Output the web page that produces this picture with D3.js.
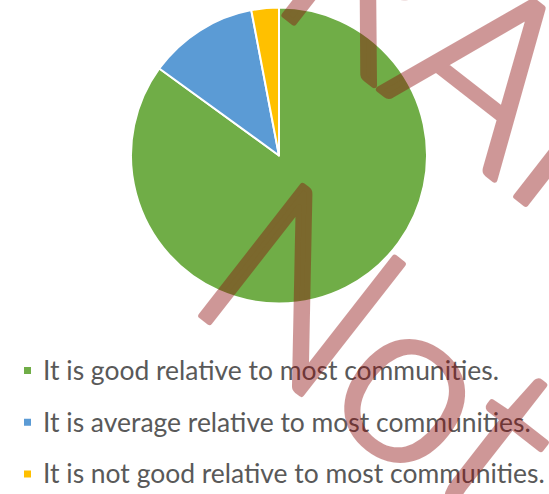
<!DOCTYPE html>
<html>
<head>
<meta charset="utf-8">
<script src="https://cdn.jsdelivr.net/npm/d3@7"></script>
<style>
  html, body { margin: 0; padding: 0; background: #ffffff; }
  svg { display: block; }
</style>
</head>
<body>
<svg id="chart" width="549" height="494"></svg>
<script>
const categories = [
  "It is good relative to most communities.",
  "It is average relative to most communities.",
  "It is not good relative to most communities."
];
const values = [85, 12, 3];
const colors = ["#70AD47", "#5B9BD5", "#FFC000"];
const watermarkLines = ["DRAFT", "Not for Distribution"];

const svg = d3.select("#chart");
const W = 549, H = 494;
const cx = 279, cy = 155.5, R = 148;

const pie = d3.pie().sort(null).value(d => d);
const arc = d3.arc().innerRadius(0).outerRadius(R);
const color = d3.scaleOrdinal().domain(categories).range(colors);

const g = svg.append("g").attr("transform", `translate(${cx},${cy})`);
g.selectAll("path")
  .data(pie(values))
  .join("path")
  .attr("d", arc)
  .attr("fill", (d, i) => color(categories[i]))
  .attr("stroke", "#ffffff")
  .attr("stroke-width", 2)
  .attr("stroke-linejoin", "round");

// Legend
const legendY = d3.scalePoint().domain(categories).range([370.5, 474]);
const leg = svg.append("g");
const rows = leg.selectAll("g.row")
  .data(categories)
  .join("g")
  .attr("class", "row")
  .attr("transform", d => `translate(0,${legendY(d)})`);
rows.append("rect")
  .attr("x", 24).attr("y", -3.5)
  .attr("width", 7).attr("height", 7)
  .attr("fill", d => color(d));
const texts = rows.append("text")
  .attr("x", 43)
  .attr("y", 0)
  .attr("dy", "0.35em")
  .attr("fill", "#595959")
  .style("font-family", "Lato, 'Open Sans', sans-serif")
  .style("font-size", "22px")
  .text(d => d);
const longest = texts.filter((d, i) => i === 2).node().getComputedTextLength();
const fs = 22 * 502 / longest;
texts.style("font-size", fs + "px");

// Watermark (semi-transparent, rotated)
const wfs = 233;
const wm = svg.append("g")
  .attr("opacity", 0.42)
  .attr("transform", "rotate(38)");
const wmText = (txt, y) => wm.append("text")
  .attr("y", y)
  .attr("fill", "rgb(140,10,10)")
  .attr("stroke", "rgb(140,10,10)")
  .attr("stroke-width", 6)
  .attr("stroke-linejoin", "round")
  .style("font-family", "Lato, 'Liberation Sans', sans-serif")
  .style("font-weight", 300)
  .style("font-size", wfs + "px")
  .text(txt);
const t1 = wmText(watermarkLines[0], -163);
const rS = t1.node().getStartPositionOfChar(1).x;
const aS = t1.node().getStartPositionOfChar(2).x;
const off1 = ((239 - 0.1 * wfs - rS) + (381 - 0.03 * wfs - aS)) / 2 - 15;
t1.attr("x", off1);
const t2 = wmText(watermarkLines[1], 125);
t2.attr("x", 360 - 0.1 * wfs - 8);
</script>
</body>
</html>
